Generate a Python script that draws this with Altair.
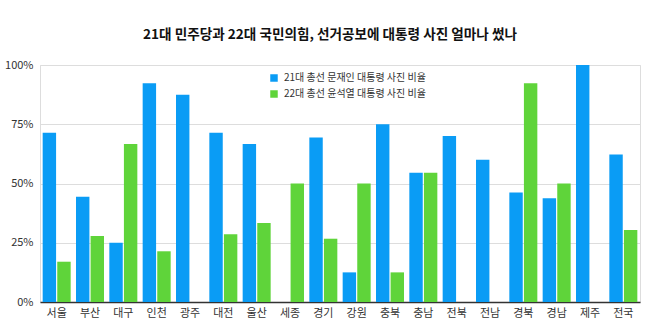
import altair as alt
import pandas as pd

regions = ["서울", "부산", "대구", "인천", "광주", "대전", "울산", "세종", "경기",
           "강원", "충북", "충남", "전북", "전남", "경북", "경남", "제주", "전국"]
moon = [71.4, 44.4, 25.0, 92.3, 87.5, 71.4, 66.7, 0.0, 69.4,
        12.5, 75.0, 54.5, 70.0, 60.0, 46.2, 43.8, 100.0, 62.2]
yoon = [17.0, 27.8, 66.7, 21.4, 0.0, 28.6, 33.3, 50.0, 26.7,
        50.0, 12.5, 54.5, 0.0, 0.0, 92.3, 50.0, 0.0, 30.4]
series = ["21대 총선 문재인 대통령 사진 비율", "22대 총선 윤석열 대통령 사진 비율"]
colors = ["#0a9cf5", "#5fd43a"]

rows = []
for i, r in enumerate(regions):
    rows.append({"region": r, "series": series[0], "value": moon[i] / 100})
    rows.append({"region": r, "series": series[1], "value": yoon[i] / 100})
df = pd.DataFrame(rows)

FONT = "Noto Sans CJK KR"

chart = alt.Chart(df).mark_bar().encode(
    x=alt.X("region:N", sort=regions, title=None,
            scale=alt.Scale(paddingInner=0.16, paddingOuter=0.08),
            axis=alt.Axis(labelAngle=0, ticks=False, domain=True, domainColor="#333333",
                          domainWidth=1.5, labelPadding=5, labelFontSize=11,
                          labelColor="#333333", labelFont=FONT)),
    xOffset=alt.XOffset("series:N", sort=series, scale=alt.Scale(paddingInner=0.08)),
    y=alt.Y("value:Q", title=None,
            scale=alt.Scale(domain=[0, 1], nice=False),
            axis=alt.Axis(values=[0, 0.25, 0.5, 0.75, 1.0], format=".0%", ticks=False,
                          domain=False, gridColor="#dddddd", labelPadding=7,
                          labelFontSize=11, labelColor="#333333", labelFont=FONT)),
    color=alt.Color("series:N", sort=series, title=None,
                    scale=alt.Scale(domain=series, range=colors),
                    legend=alt.Legend(orient="none", legendX=229, legendY=8,
                                      symbolType="square", symbolSize=56,
                                      symbolStrokeWidth=0, labelFontSize=10,
                                      labelColor="#333333", labelFont=FONT,
                                      rowPadding=6, labelOffset=5, labelLimit=300)),
).properties(
    width=600, height=237,
    title=alt.Title("21대 민주당과 22대 국민의힘, 선거공보에 대통령 사진 얼마나 썼나",
                    fontSize=13.6, font=FONT, fontWeight="bold", color="#111111",
                    anchor="middle", dx=-10, offset=17),
    autosize=alt.AutoSizeParams(type="none"),
    padding={"left": 40, "top": 65, "right": 18, "bottom": 25},
).configure_view(stroke=None).configure(background="white")

chart.save("out.html", embed_options={"renderer": "svg", "actions": False})
